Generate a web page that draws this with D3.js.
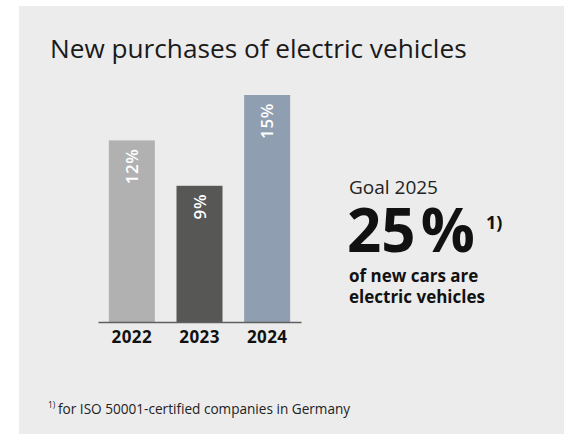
<!DOCTYPE html>
<html>
<head>
<meta charset="utf-8">
<script src="https://cdn.jsdelivr.net/npm/d3@7"></script>
<style>
  body { margin: 0; background: #fff; }
  text { font-family: "Open Sans", sans-serif; }
</style>
</head>
<body>
<script>
// chart data
var years = ["2022", "2023", "2024"];
var shares = [12, 9, 15];
var barColors = ["#b1b1b1", "#575756", "#8f9eb1"];
var goalYear = "2025";
var goalShare = 25;

var w = 564;
var h = 434;

var svg = d3.select("body")
            .append("svg")
            .attr("width", w)
            .attr("height", h);

/***Panel background***/
svg.append("rect")
   .attr("x", 19)
   .attr("y", 6)
   .attr("width", w - 19)
   .attr("height", h - 6)
   .attr("fill", "#ececec");

svg.append("text")
   .attr("x", 50)
   .attr("y", 58)
   .attr("font-size", 26.2)
   .attr("fill", "#1a1a1a")
   .text("New purchases of electric vehicles");

/***Scales***/
var xScale = d3.scaleBand()
               .domain(years)
               .range([98, 301])
               .paddingInner(0.32)
               .paddingOuter(0.16);
var yScale = d3.scaleLinear()
               .domain([0, 15])
               .range([322, 95]);

/***Bars***/
svg.selectAll(".bar")
   .data(shares)
   .enter()
   .append("rect")
   .attr("class", "bar")
   .attr("x", function(d, i) { return xScale(years[i]); })
   .attr("y", function(d) { return yScale(d); })
   .attr("width", xScale.bandwidth())
   .attr("height", function(d) { return yScale(0) - yScale(d); })
   .attr("fill", function(d, i) { return barColors[i]; });

// rotated value labels near the top of each bar
svg.selectAll(".val")
   .data(shares)
   .enter()
   .append("text")
   .attr("class", "val")
   .attr("transform", function(d, i) {
     var cx = xScale(years[i]) + xScale.bandwidth() / 2;
     return "translate(" + cx + "," + (yScale(d) + 8) + ")rotate(-90)";
   })
   .attr("text-anchor", "end")
   .attr("dy", "0.36em")
   .attr("font-size", 17)
   .attr("font-weight", 600)
   .attr("letter-spacing", 0.6)
   .attr("fill", "#fff")
   .text(function(d) { return d + "%"; });

/***Axis***/
var xAxis = d3.axisBottom()
              .scale(xScale)
              .tickSize(0)
              .tickSizeOuter(0)
              .tickPadding(8.5);
var axisG = svg.append("g")
   .attr("class", "xaxis")
   .attr("transform", "translate(0," + yScale(0) + ")")
   .call(xAxis);
axisG.select(".domain")
     .attr("stroke", "#5f5f5f")
     .attr("stroke-width", 1.6);
axisG.selectAll("text")
     .attr("font-family", "'Open Sans', sans-serif")
     .attr("font-size", 17)
     .attr("font-weight", 700)
     .attr("letter-spacing", 0.4)
     .attr("fill", "#111");

/***Goal block***/
var gx = 349;
svg.append("text")
   .attr("x", gx)
   .attr("y", 194)
   .attr("font-size", 19)
   .attr("fill", "#222")
   .text("Goal " + goalYear);

var big = svg.append("text")
   .attr("x", gx - 2)
   .attr("y", 252)
   .attr("font-size", 60)
   .attr("font-weight", 700)
   .attr("fill", "#111");
big.append("tspan").text(goalShare);
big.append("tspan").attr("dx", 5).text("%");

svg.append("text")
   .attr("x", 486)
   .attr("y", 229)
   .attr("font-size", 18)
   .attr("font-weight", 700)
   .attr("fill", "#111")
   .text("1)");

svg.append("text")
   .attr("x", gx)
   .attr("y", 281.5)
   .attr("font-size", 17)
   .attr("font-weight", 700)
   .attr("fill", "#111")
   .text("of new cars are");
svg.append("text")
   .attr("x", gx)
   .attr("y", 302.5)
   .attr("font-size", 17)
   .attr("font-weight", 700)
   .attr("fill", "#111")
   .text("electric vehicles");

/***Footnote***/
svg.append("text")
   .attr("x", 48)
   .attr("y", 408)
   .attr("font-size", 8.5)
   .attr("fill", "#222")
   .text("1)");
svg.append("text")
   .attr("x", 58)
   .attr("y", 414)
   .attr("font-size", 13.6)
   .attr("fill", "#222")
   .text("for ISO 50001-certified companies in Germany");
</script>
</body>
</html>
